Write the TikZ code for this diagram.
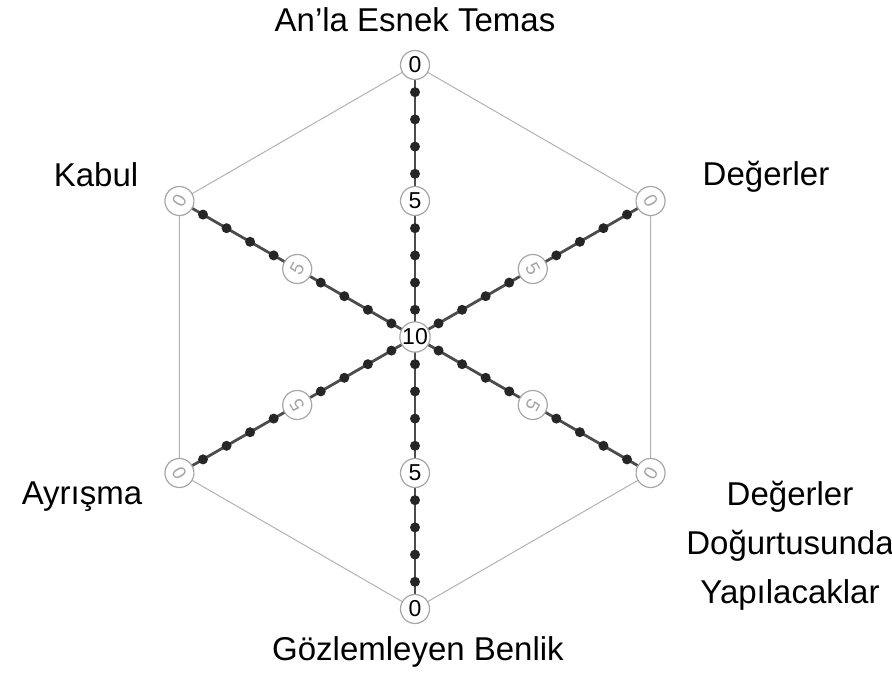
\documentclass[tikz,border=0pt]{standalone}
\usepackage{fontspec}
\setmainfont{Liberation Sans}
\usepackage{tikz}
\usetikzlibrary{calc}

\begin{document}
\begin{tikzpicture}[
  x=1pt, y=1pt,
  ring/.style={circle, draw=gray!70, line width=1.2pt, fill=white, minimum size=29pt, inner sep=0pt, font=\fontsize{23}{23}\selectfont},
  faint/.style={text=gray!70, font=\fontsize{19}{19}\selectfont},
  spoke/.style={draw=gray!60!black, line width=2.8pt},
  rim/.style={draw=gray!60, line width=1pt},
  bead/.style={fill=black!85},
  axislabel/.style={font=\fontsize{33}{49}\selectfont, align=center}
]
\useasboundingbox (0,0) rectangle (892,677);
\coordinate (ctr) at (415,340);
% outer corners of the hexagon
\foreach \a in {90,30,330,270,210,150}
  \coordinate (p\a) at ($(ctr)+(\a:272)$);
\draw[rim] (p90) -- (p30) -- (p330) -- (p270) -- (p210) -- (p150) -- cycle;
% spokes with their beads
\foreach \a in {90,30,330,270,210,150} {
  \draw[spoke] (ctr) -- (p\a);
  \foreach \k in {1,2,3,4,6,7,8,9}
    \fill[bead] ($(ctr)!\k/10!(p\a)$) circle (5pt);
}
% scale marks
\node[ring] (t0) at (p90) {0};
\node[ring] (t5) at ($(ctr)!0.5!(p90)$) {5};
\node[ring] (b0) at (p270) {0};
\node[ring] (b5) at ($(ctr)!0.5!(p270)$) {5};
\foreach \a/\r in {30/-60,150/60,210/120,330/240} {
  \node[ring, faint, rotate=\r] (o\a) at (p\a) {0};
  \node[ring, faint, rotate=\r] (m\a) at ($(ctr)!0.5!(p\a)$) {5};
}
\node[ring] (mid) at (ctr) {10};
% axis names
\node[axislabel] (temas) at (415,657) {An’la Esnek Temas};
\node[axislabel] (kabul) at (96,502) {Kabul};
\node[axislabel] (deger) at (766,500) {Değerler};
\node[axislabel] (ayrisma) at (82,180) {Ayrışma};
\node[axislabel] (yapilacak) at (790,131) {Değerler\\Doğurtusunda\\Yapılacaklar};
\node[axislabel] (benlik) at (418,25) {Gözlemleyen Benlik};
\end{tikzpicture}
\end{document}
